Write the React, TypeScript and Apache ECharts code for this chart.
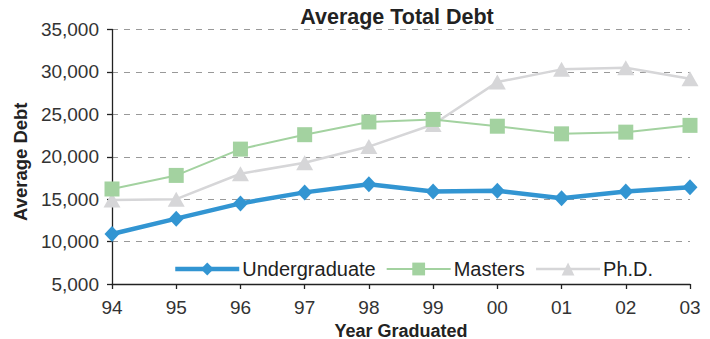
import React, { useEffect, useRef } from "react";
import * as echarts from "echarts";

const years = ["94", "95", "96", "97", "98", "99", "00", "01", "02", "03"];
const undergraduate = [10900, 12700, 14500, 15800, 16750, 15900, 16000, 15100, 15900, 16400];
const masters = [16200, 17800, 20900, 22600, 24100, 24400, 23600, 22700, 22900, 23700];
const phd = [14900, 15000, 18000, 19300, 21200, 23800, 28800, 30300, 30500, 29200];

const FONT = "'Liberation Sans', Arial, Helvetica, sans-serif";
const BLUE = "#3295d2";
const GREEN = "#a3d2a0";
const GREY = "#d6d6d8";

export default function App() {
  const ref = useRef<HTMLDivElement>(null);
  useEffect(() => {
    if (!ref.current) return;
    const chart = echarts.init(ref.current, undefined, { renderer: "svg" });
    chart.setOption({
      animation: false,
      backgroundColor: "#ffffff",
      textStyle: { fontFamily: FONT },
      title: {
        text: "Average Total Debt",
        left: 392,
        top: 1,
        textAlign: "center",
        textStyle: { fontFamily: FONT, fontSize: 21.5, fontWeight: "bold", color: "#222" },
      },
      legend: {
        left: 168,
        top: 254,
        itemGap: 10,
        itemWidth: 64,
        itemHeight: 16,
        textStyle: { fontFamily: FONT, fontSize: 20, color: "#222", padding: [0, 0, 0, -2] },
        data: [
          { name: "Undergraduate", lineStyle: { width: 4.5, color: BLUE } },
          { name: "Masters", lineStyle: { width: 2, color: GREEN } },
          { name: "Ph.D.", lineStyle: { width: 2.5, color: GREY } },
        ],
      },
      grid: { left: 112, right: 20, top: 29.5, bottom: 55, containLabel: false, outerBoundsMode: "none" },
      xAxis: {
        type: "category",
        data: years,
        boundaryGap: false,
        name: "Year Graduated",
        nameLocation: "middle",
        nameGap: 28,
        nameTextStyle: { fontFamily: FONT, fontSize: 18, lineHeight: 18, fontWeight: "bold", color: "#222" },
        axisLine: { lineStyle: { color: "#222", width: 1.3 } },
        axisTick: { alignWithLabel: true, length: 5, lineStyle: { color: "#222", width: 1.3 } },
        axisLabel: { fontFamily: FONT, fontSize: 19, color: "#333", margin: 14 },
        splitLine: { show: false },
      },
      yAxis: {
        type: "value",
        min: 5000,
        max: 35000,
        interval: 5000,
        name: "Average Debt",
        nameLocation: "middle",
        nameGap: 76,
        nameTextStyle: { fontFamily: FONT, fontSize: 18.5, fontWeight: "bold", color: "#222", padding: [0, 10, 0, 0] },
        axisLine: { show: true, lineStyle: { color: "#222", width: 1.3 } },
        axisTick: { show: true, length: 5, lineStyle: { color: "#222", width: 1.3 } },
        axisLabel: {
          fontFamily: FONT,
          fontSize: 19,
          color: "#333",
          margin: 13,
          formatter: (v: number) => v.toLocaleString("en-US"),
        },
        splitLine: { show: true, lineStyle: { color: "#999", type: [6, 6], width: 1 } },
      },
      series: [
        {
          name: "Ph.D.",
          type: "line",
          data: phd,
          z: 2,
          symbol: "triangle",
          symbolSize: [17, 15],
          itemStyle: { color: GREY },
          lineStyle: { color: GREY, width: 2.5 },
        },
        {
          name: "Masters",
          type: "line",
          data: masters,
          z: 3,
          symbol: "rect",
          symbolSize: 15,
          itemStyle: { color: GREEN },
          lineStyle: { color: GREEN, width: 2 },
        },
        {
          name: "Undergraduate",
          type: "line",
          data: undergraduate,
          z: 4,
          symbol: "diamond",
          symbolSize: [15, 16],
          itemStyle: { color: BLUE },
          lineStyle: { color: BLUE, width: 4.5 },
        },
      ],
    });
    return () => chart.dispose();
  }, []);
  return <div ref={ref} style={{ width: 710, height: 339, position: "absolute", left: 0, top: 0 }} />;
}
